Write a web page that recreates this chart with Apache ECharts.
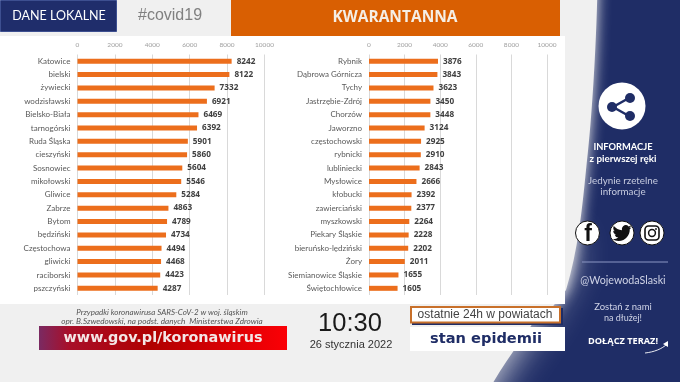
<!DOCTYPE html>
<html lang="pl">

<head>
    <meta charset="UTF-8">
    <title>kwarantanna w powiatach</title>
    <script type="text/javascript" src="https://cdn.jsdelivr.net/npm/echarts@6/dist/echarts.min.js"></script>
    <style>
        html, body { margin: 0; padding: 0; background: #f0f0f0; }
    </style>
</head>

<body>
    <div id="main" style="width: 680px;height:382px;"></div>
    <script type="text/javascript">
    // lewa kolumna
    const leftNames = ['Katowice', 'bielski', 'żywiecki', 'wodzisławski', 'Bielsko-Biała', 'tarnogórski', 'Ruda Śląska', 'cieszyński', 'Sosnowiec', 'mikołowski', 'Gliwice', 'Zabrze', 'Bytom', 'będziński', 'Częstochowa', 'gliwicki', 'raciborski', 'pszczyński'];
    const leftValues = [8242, 8122, 7332, 6921, 6469, 6392, 5901, 5860, 5604, 5546, 5284, 4863, 4789, 4734, 4494, 4468, 4423, 4287];

    // prawa kolumna
    const rightNames = ['Rybnik', 'Dąbrowa Górnicza', 'Tychy', 'Jastrzębie-Zdrój', 'Chorzów', 'Jaworzno', 'częstochowski', 'rybnicki', 'lubliniecki', 'Mysłowice', 'kłobucki', 'zawierciański', 'myszkowski', 'Piekary Śląskie', 'bieruńsko-lędziński', 'Żory', 'Siemianowice Śląskie', 'Świętochłowice'];
    const rightValues = [3876, 3843, 3623, 3450, 3448, 3124, 2925, 2910, 2843, 2666, 2392, 2377, 2264, 2228, 2202, 2011, 1655, 1605];

    const NAVY = '#1f2d66';
    const ORANGE = '#ec6e1c';
    const FONT = 'Lato';

    // ksztalty tla i ikony
    echarts.graphic.registerShape('lightTop', echarts.graphic.extendPath('M-40 -40 L598 -40 C597 40 592 120 586 170 C582 210 578 250 566 290 L550 310 L-40 310 Z', {}));
    echarts.graphic.registerShape('lightBottom', echarts.graphic.extendPath('M-40 240 L570 240 C565 300 510 340 472 422 L-40 422 Z', {}));
    echarts.graphic.registerShape('twitterBird', echarts.graphic.extendPath('M23.953 4.57a10 10 0 0 1-2.825.775 4.958 4.958 0 0 0 2.163-2.723c-.951.555-2.005.959-3.127 1.184a4.92 4.92 0 0 0-8.384 4.482C7.69 8.095 4.067 6.13 1.64 3.162a4.822 4.822 0 0 0-.666 2.475c0 1.71.87 3.213 2.188 4.096a4.904 4.904 0 0 1-2.228-.616v.06a4.923 4.923 0 0 0 3.946 4.827 4.996 4.996 0 0 1-2.212.085 4.936 4.936 0 0 0 4.604 3.417 9.867 9.867 0 0 1-6.102 2.105c-.39 0-.779-.023-1.17-.067a13.995 13.995 0 0 0 7.557 2.209c9.053 0 13.998-7.496 13.998-13.985 0-.21 0-.42-.015-.63A9.935 9.935 0 0 0 24 4.59z', {}));

    let myChart = echarts.init(document.getElementById('main'));

    function txt(x, y, text, size, color, extra) {
        return {
            type: 'text', z: 5, x: x, y: y,
            style: Object.assign({
                text: text, fontSize: size, fill: color, fontFamily: FONT,
                align: 'center', verticalAlign: 'middle'
            }, extra || {})
        };
    }

    function xAxis(idx) {
        return {
            gridIndex: idx, type: 'value', position: 'top', min: 0, max: 10000, interval: 2000,
            axisLine: { show: false }, axisTick: { show: false },
            axisLabel: { color: '#a0a0a0', fontSize: 6.5, fontFamily: FONT, margin: 6, formatter: function (v) { return String(v); } },
            splitLine: { lineStyle: { color: '#d9d9d9', width: 1 } }
        };
    }

    function yAxis(idx, names) {
        return {
            gridIndex: idx, type: 'category', inverse: true, data: names,
            axisLine: { show: false }, axisTick: { show: false },
            axisLabel: { color: '#595959', fontSize: 8, fontFamily: FONT, margin: 7, interval: 0 }
        };
    }

    function barSeries(idx, values) {
        return {
            type: 'bar', xAxisIndex: idx, yAxisIndex: idx, data: values, barWidth: 5,
            itemStyle: { color: ORANGE },
            label: {
                show: true, position: 'right', distance: 5, color: '#404040',
                fontSize: 8.2, fontWeight: 'bold', fontFamily: 'Open Sans'
            }
        };
    }

    const option = {
        animation: false,
        backgroundColor: NAVY,
        grid: [
            { left: 77.5, width: 187, top: 54.5, height: 240.5 },
            { left: 369, width: 178, top: 54.5, height: 240.5 }
        ],
        xAxis: [xAxis(0), xAxis(1)],
        yAxis: [yAxis(0, leftNames), yAxis(1, rightNames)],
        series: [barSeries(0, leftValues), barSeries(1, rightValues)],
        graphic: { elements: [
            // jasne tlo z rozmytym skosem
            { type: 'lightBottom', z: -10, style: { fill: '#f0f0f0', shadowColor: '#f0f0f0', shadowBlur: 38 } },
            { type: 'lightTop', z: -9, style: { fill: '#f0f0f0', shadowColor: '#f0f0f0', shadowBlur: 14 } },
            // panel bialy
            { type: 'rect', z: -5, shape: { x: 0, y: 36, width: 565, height: 268 }, style: { fill: '#ffffff' } },
            // naglowek
            { type: 'rect', z: 1, shape: { x: 0.5, y: 0.5, width: 116, height: 31 }, style: { fill: '#1f2d6b', stroke: '#3d4f90', lineWidth: 1 } },
            txt(59, 16, 'DANE LOKALNE', 12.5, '#ffffff'),
            txt(170, 16, '#covid19', 16, '#808080', { fontFamily: 'Liberation Sans' }),
            { type: 'rect', z: 1, shape: { x: 231, y: 0, width: 329, height: 36 }, style: { fill: '#d95f02' } },
            txt(395, 18, 'KWARANTANNA', 15.5, '#f5efe6', { fontFamily: 'Open Sans', fontWeight: 'bold' }),
            // stopka
            txt(162, 312.5, 'Przypadki koronawirusa SARS-CoV-2 w woj. śląskim', 8, '#555555', { fontStyle: 'italic' }),
            txt(162, 321, 'opr. B.Szwedowski, na podst. danych  Ministerstwa Zdrowia', 8.2, '#555555', { fontStyle: 'italic' }),
            {
                type: 'rect', z: 1, shape: { x: 39, y: 326, width: 248, height: 24 },
                style: { fill: new echarts.graphic.LinearGradient(0, 0, 1, 0, [
                    { offset: 0, color: '#7a2a62' }, { offset: 0.12, color: '#a80f2a' },
                    { offset: 0.45, color: '#b00000' }, { offset: 1, color: '#fb0006' }
                ]) }
            },
            txt(163, 338, 'www.gov.pl/koronawirus', 14.4, '#f4e6e6', { fontFamily: 'DejaVu Sans', fontWeight: 'bold' }),
            txt(350, 324, '10:30', 25.5, '#1a1a1a', { fontFamily: 'Liberation Sans' }),
            txt(351, 345, '26 stycznia 2022', 11, '#333333', { fontFamily: 'Liberation Sans' }),
            // ramki po prawej
            { type: 'rect', z: 1, shape: { x: 412, y: 308, width: 151, height: 17 }, style: { fill: NAVY } },
            { type: 'rect', z: 2, shape: { x: 411, y: 307, width: 149, height: 15.5 }, style: { fill: '#ffffff', stroke: '#c8702a', lineWidth: 2 } },
            txt(485, 314.5, 'ostatnie 24h w powiatach', 12, '#444444', { fontFamily: 'Liberation Sans' }),
            { type: 'rect', z: 1, shape: { x: 410, y: 327, width: 155, height: 24 }, style: { fill: '#ffffff' } },
            txt(486, 339, 'stan epidemii', 14.6, NAVY, { fontFamily: 'DejaVu Sans', fontWeight: 'bold' }),
            // share
            { type: 'circle', z: 1, shape: { cx: 622, cy: 106, r: 23.5 }, style: { fill: '#ffffff' } },
            { type: 'polyline', z: 2, shape: { points: [[629, 98], [613, 107], [629, 116]] }, style: { fill: 'none', stroke: NAVY, lineWidth: 2.5 } },
            { type: 'circle', z: 2, shape: { cx: 630, cy: 98, r: 5 }, style: { fill: NAVY } },
            { type: 'circle', z: 2, shape: { cx: 612, cy: 107, r: 5 }, style: { fill: NAVY } },
            { type: 'circle', z: 2, shape: { cx: 630, cy: 116, r: 5 }, style: { fill: NAVY } },
            txt(623, 147, 'INFORMACJE', 9.3, '#ffffff', { fontWeight: 'bold' }),
            txt(623, 159, 'z pierwszej ręki', 9.8, '#ffffff', { fontWeight: 'bold' }),
            txt(623, 181, 'Jedynie rzetelne', 9.8, '#c6cbdf'),
            txt(623, 192, 'informacje', 9.8, '#c6cbdf'),
            // ikony
            { type: 'circle', z: 1, shape: { cx: 587.5, cy: 233, r: 12 }, style: { fill: '#ffffff', stroke: '#111111', lineWidth: 1 } },
            { type: 'circle', z: 1, shape: { cx: 622, cy: 233, r: 12 }, style: { fill: '#ffffff', stroke: '#111111', lineWidth: 1 } },
            { type: 'circle', z: 1, shape: { cx: 652, cy: 233, r: 12 }, style: { fill: '#ffffff', stroke: '#111111', lineWidth: 1 } },
            txt(588, 235, 'f', 23, '#111111', { fontWeight: 'bold', fontFamily: 'Liberation Sans' }),
            { type: 'twitterBird', z: 2, x: 612.5, y: 223.5, scaleX: 0.8, scaleY: 0.8, style: { fill: '#111111' } },
            { type: 'rect', z: 2, shape: { x: 645, y: 226, width: 14, height: 14, r: 3.5 }, style: { fill: 'none', stroke: '#111111', lineWidth: 1.6 } },
            { type: 'circle', z: 2, shape: { cx: 652, cy: 233, r: 3.4 }, style: { fill: 'none', stroke: '#111111', lineWidth: 1.5 } },
            { type: 'circle', z: 2, shape: { cx: 656, cy: 229, r: 0.9 }, style: { fill: '#111111' } },
            { type: 'line', z: 1, shape: { x1: 582, y1: 262, x2: 668, y2: 262 }, style: { stroke: '#8c97c4', lineWidth: 1 } },
            txt(623, 281, '@WojewodaSlaski', 10.7, '#cfd3e6'),
            txt(623, 307, 'Zostań z nami', 9.5, '#cfd3e6'),
            txt(623, 318, 'na dłużej!', 9, '#cfd3e6'),
            txt(623, 341, 'DOŁĄCZ TERAZ!', 9.2, '#ffffff', { fontWeight: 'bold', fontFamily: 'Open Sans' }),
            // strzalka
            {
                type: 'bezierCurve', z: 1,
                shape: { x1: 645, y1: 353, cpx1: 654, cpy1: 352, cpx2: 662, cpy2: 349, x2: 667, y2: 344 },
                style: { fill: 'none', stroke: '#ffffff', lineWidth: 0.9 }
            },
            { type: 'polygon', z: 1, shape: { points: [[668, 341], [668, 347], [663, 344]] }, style: { fill: '#ffffff' } }
        ] }
    };

    myChart.setOption(option);
    </script>
</body>

</html>
